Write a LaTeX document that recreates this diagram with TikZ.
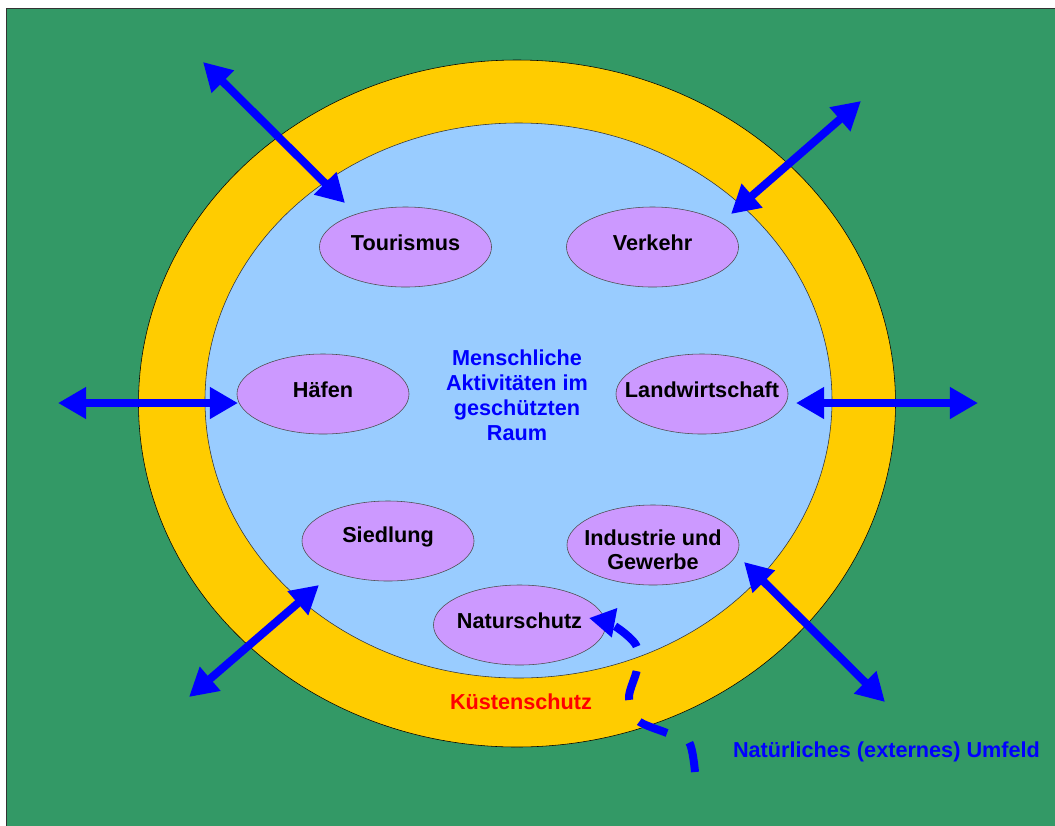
\documentclass[tikz,border=0pt]{standalone}
\usepackage{fontspec}
\setmainfont{Liberation Sans}
\usetikzlibrary{arrows.meta,shapes.geometric}
\definecolor{FieldGreen}{RGB}{51,153,102}
\definecolor{CoastYellow}{RGB}{255,204,0}
\definecolor{SpaceBlue}{RGB}{153,204,255}
\definecolor{ActLilac}{RGB}{204,153,255}
\definecolor{FlowBlue}{RGB}{0,0,255}

\begin{document}
\begin{tikzpicture}[x=0.025cm, y=-0.025cm,
  txt/.style={font=\fontsize{15.4}{17.7}\selectfont\bfseries, align=center},
  lbl/.style={txt, yshift=0.1cm},
  act/.style={ellipse, draw=black!70, fill=ActLilac, minimum width=4.3cm, minimum height=2cm, inner sep=0pt},
  flow/.style={{Triangle[length=0.7cm,width=0.75cm]}-{Triangle[length=0.7cm,width=0.75cm]}, FlowBlue, line width=0.2cm}]
\useasboundingbox (0,0) rectangle (1055,825);
\fill[white] (0,0) rectangle (1055,825);
\draw[fill=FieldGreen, draw=black!80] (6,8) rectangle (1060,830);
\draw[fill=CoastYellow, draw=black] (517,403.5) ellipse [x radius=378.5, y radius=343.5];
\draw[fill=SpaceBlue, draw=black!80] (518.5,400.5) ellipse [x radius=313.5, y radius=277.5];

\node[act, label={[lbl]center:Tourismus}] (tour) at (405.5,247) {};
\node[act, label={[lbl]center:Verkehr}] (verk) at (652.5,247) {};
\node[act, label={[lbl]center:Häfen}] (haefen) at (323,394) {};
\node[act, label={[lbl]center:Landwirtschaft}] (land) at (702,394) {};
\node[act, label={[lbl]center:Siedlung}] (sied) at (388,541) {};
\node[act, label={[txt, yshift=-0.12cm]center:{Industrie und\\Gewerbe}}] (ind) at (653,545) {};
\node[act, label={[lbl]center:Naturschutz}] (natur) at (519.5,625) {};

\node[txt, FlowBlue] (mensch) at (517,395.5) {Menschliche\\Aktivitäten im\\geschützten\\Raum};
\node[txt, red] (kueste) at (521,702) {Küstenschutz};
\node[txt, FlowBlue] (umfeld) at (886.5,752) {Natürliches (externes) Umfeld};

\coordinate (tlOut) at (203,62);
\coordinate (tlIn) at (345,203);
\coordinate (trOut) at (861,101);
\coordinate (trIn) at (731,214);
\coordinate (lOut) at (58,403);
\coordinate (lIn) at (238,403);
\coordinate (rIn) at (796,403);
\coordinate (rOut) at (978,403);
\coordinate (blIn) at (319,585);
\coordinate (blOut) at (189,697);
\coordinate (brIn) at (744,562);
\coordinate (brOut) at (885,702);
\coordinate (ext) at (695,772);
\coordinate (natTip) at (589,618);

\draw[flow] (tlOut) -- (tlIn);
\draw[flow] (trOut) -- (trIn);
\draw[flow] (lOut) -- (lIn);
\draw[flow] (rIn) -- (rOut);
\draw[flow] (blIn) -- (blOut);
\draw[flow] (brIn) -- (brOut);

\draw[FlowBlue, line width=0.2cm, dash pattern=on 0.75cm off 0.62cm, -{Triangle[length=0.65cm,width=0.7cm]}]
  plot[smooth, tension=0.5] coordinates {(ext) (689,742) (667,733) (637,720) (629,697) (637,669) (636,645) (613,625) (natTip)};
\end{tikzpicture}
\end{document}
